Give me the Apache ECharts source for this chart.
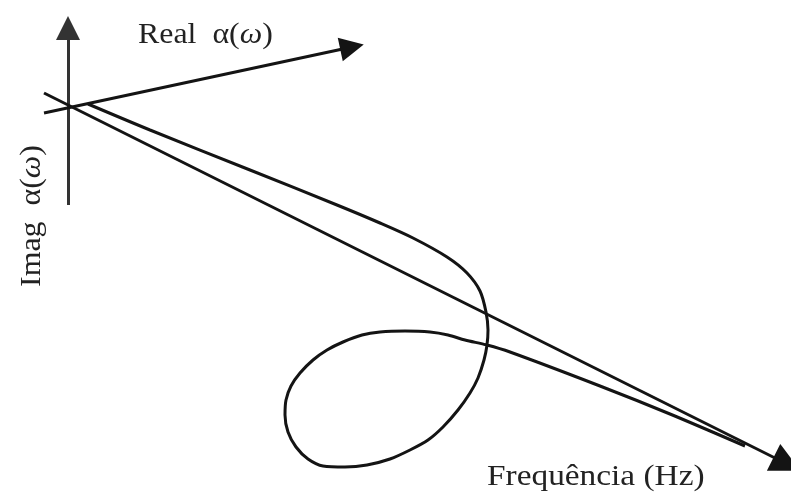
<!DOCTYPE html>
<html>
<head>
<meta charset="utf-8">
<script src="https://cdn.jsdelivr.net/npm/echarts@6/dist/echarts.min.js"></script>
<style>
  html, body { margin: 0; padding: 0; background: #fff; }
  #chart { width: 791px; height: 493px; }
</style>
</head>
<body>
<div id="chart"></div>
<script>
// Sketch coordinates: x to the right, y downward (drawing units).
const imagAxis = [[68, 205], [68, 28]];
const realAxis = [[44, 113], [352, 47]];
const freqAxis = [[44, 93], [787, 464]];

// Receptance trace: leaves the origin, loops back on itself, then runs out along the frequency axis.
const responseCurve = [
  [88, 104], [150, 130], [250, 170], [337, 205], [380, 223], [413, 238],
  [447, 257], [467, 273], [480, 291], [486, 312], [488, 330], [487, 345],
  [484, 360], [478, 378], [470, 393], [458, 410], [443, 427], [428, 440],
  [410, 450], [390, 459], [367, 465], [345, 467], [323, 466], [308, 459],
  [296, 447], [288, 432], [285, 415], [286, 400], [291, 386], [300, 373],
  [313, 360], [327, 350], [343, 342], [362, 335], [380, 332], [405, 331],
  [430, 332], [448, 335], [465, 340], [487, 345], [510, 352], [600, 386],
  [670, 414], [745, 446]
];

const realLabel = ['Real  α(', 'ω', ')'];
const imagLabel = ['Imag  α(', 'ω', ')'];
const freqLabel = 'Frequência (Hz)';

const ink = '#141414';
const serif = '"Liberation Serif", "DejaVu Serif", serif';

function richLabel(parts) {
  return '{n|' + parts[0] + '}{w|' + parts[1] + '}{n|' + parts[2] + '}';
}
const richStyles = {
  n: { fontFamily: serif, fontSize: 29, fill: '#222' },
  w: { fontFamily: serif, fontSize: 29, fontStyle: 'italic', fill: '#222' }
};

const chart = echarts.init(document.getElementById('chart'), null, { renderer: 'canvas' });

function axisArrow(coords, size, color) {
  return {
    type: 'lines',
    coordinateSystem: 'cartesian2d',
    polyline: false,
    symbol: ['none', 'triangle'],
    symbolSize: size,
    silent: true,
    lineStyle: { color: color, width: 3, opacity: 1, curveness: 0 },
    data: [{ coords: coords }],
    z: 3
  };
}

chart.setOption({
  animation: false,
  backgroundColor: '#ffffff',
  grid: { left: 0, right: 0, top: 0, bottom: 0 },
  xAxis: { type: 'value', min: 0, max: 791, show: false },
  yAxis: { type: 'value', min: 0, max: 493, inverse: true, show: false },
  series: [
    axisArrow(imagAxis, [15, 24], '#333'),
    axisArrow(realAxis, [14, 24], ink),
    axisArrow(freqAxis, [15, 30], ink),
    {
      type: 'line',
      data: responseCurve,
      smooth: 0.3,
      showSymbol: false,
      silent: true,
      lineStyle: { color: ink, width: 3 },
      z: 4
    }
  ],
  graphic: [
    {
      type: 'text',
      x: 138, y: 35,
      style: {
        text: richLabel(realLabel), rich: richStyles,
        align: 'left', verticalAlign: 'middle'
      },
      scaleX: 1.1
    },
    {
      type: 'text',
      x: 32, y: 216,
      rotation: Math.PI / 2,
      style: {
        text: richLabel(imagLabel), rich: richStyles,
        align: 'center', verticalAlign: 'middle'
      },
      scaleX: 1.1
    },
    {
      type: 'text',
      x: 487, y: 477,
      style: {
        text: freqLabel, fontFamily: serif, fontSize: 29, fill: '#222',
        align: 'left', verticalAlign: 'middle'
      },
      scaleX: 1.15
    }
  ]
});
</script>
</body>
</html>
